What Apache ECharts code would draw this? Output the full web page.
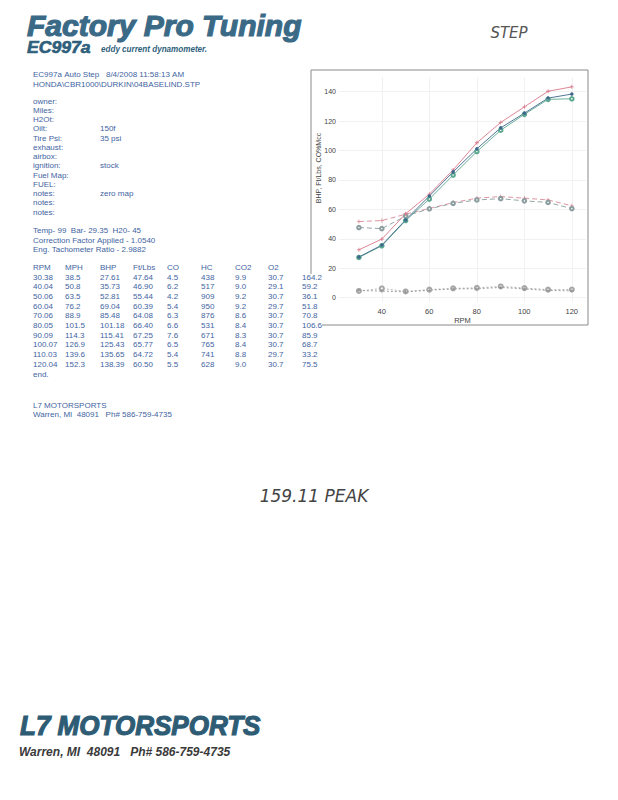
<!DOCTYPE html>
<html><head><meta charset="utf-8">
<script src="https://cdn.jsdelivr.net/npm/echarts@6/dist/echarts.min.js"></script>
<style>html,body{margin:0;padding:0;background:#fff}#c{width:618px;height:800px}</style>
</head><body><div id="c"></div>
<script>
// ---- table data (printed run) ----
const rpm = [30.38, 40.04, 50.06, 60.04, 70.06, 80.05, 90.09, 100.07, 110.03, 120.04];
const mph = [38.5, 50.8, 63.5, 76.2, 88.9, 101.5, 114.3, 126.9, 139.6, 152.3];
const bhp = [27.61, 35.73, 52.81, 69.04, 85.48, 101.18, 115.41, 125.43, 135.65, 138.39];
const ftlbs = [47.64, 46.90, 55.44, 60.39, 64.08, 66.40, 67.25, 65.77, 64.72, 60.50];
const co = [4.5, 6.2, 4.2, 5.4, 6.3, 6.6, 7.6, 6.5, 5.4, 5.5];
const hc = [438, 517, 909, 950, 876, 531, 671, 765, 741, 628];
const co2 = [9.9, 9.0, 9.2, 9.2, 8.6, 8.4, 8.3, 8.4, 8.8, 9.0];
const o2 = [30.7, 29.1, 30.7, 29.7, 30.7, 30.7, 30.7, 30.7, 29.7, 30.7];
const lastCol = [164.2, 59.2, 36.1, 51.8, 70.8, 106.6, 85.9, 68.7, 33.2, 75.5];
// ---- overlay runs ----
const bhpRed = [32.5, 39.8, 57.0, 70.3, 86.8, 105.3, 119.1, 129.7, 140.3, 143.3];
const bhpGreen = [27.3, 35.2, 52.4, 67.0, 83.3, 99.3, 113.8, 124.6, 134.8, 135.2];
const tqRed = [51.7, 52.4, 56.7, 60.6, 64.6, 67.6, 68.7, 67.6, 66.4, 62.4];
const coDark = [4.8, 4.4, 3.9, 5.0, 5.9, 6.0, 6.9, 5.9, 4.8, 4.6];
// ---- axes ----
const xTicks = [40, 60, 80, 100, 120];
const yTicks = [0, 20, 40, 60, 80, 100, 120, 140];
const headers = ['RPM', 'MPH', 'BHP', 'Ft/Lbs', 'CO', 'HC', 'CO2', 'O2', ''];
const infoLabels = ['owner:', 'Miles:', 'H2Ot:', 'Oilt:', 'Tire Psi:', 'exhaust:', 'airbox:', 'ignition:', 'Fuel Map:', 'FUEL:', 'notes:', 'notes:', 'notes:'];
const infoValues = ['', '', '', '150f', '35 psi', '', '', 'stock', '', '', 'zero map', '', ''];

const NB = '\u00a0';
const BLUE = '#42649f';
const FONT = '"Liberation Sans", Arial, sans-serif';

function pairs(v) { return rpm.map((r, i) => [r, v[i]]); }
function txt(x, y, s, opt) {
  opt = opt || {};
  return {
    type: 'text', x: x, y: y, scaleX: opt.sx || 1, silent: true, z: 10,
    style: {
      text: s.replace(/ /g, NB), fill: opt.fill || BLUE,
      font: opt.font || ('8px ' + FONT), align: opt.align || 'left', verticalAlign: 'middle',
      stroke: opt.stroke || null, lineWidth: opt.lw || 0
    }
  };
}
const graphic = [];
// header
graphic.push(txt(27, 25, 'Factory Pro Tuning', {font: 'italic bold 30px ' + FONT, fill: '#3b6a87', stroke: '#3b6a87', lw: 1.2}));
graphic.push(txt(27, 48, 'EC997a', {font: 'italic bold 16px ' + FONT, fill: '#2f5f7c', stroke: '#2f5f7c', lw: 0.6, sx: 1.1}));
graphic.push(txt(101, 49, 'eddy current dynamometer.', {font: 'italic bold 9px ' + FONT, fill: '#2f5f7c', sx: 0.9}));
graphic.push(txt(509, 33, 'STEP', {font: 'italic 15px "DejaVu Sans"', fill: '#555', align: 'center'}));
// run info
graphic.push(txt(33, 74, 'EC997a Auto Step   8/4/2008 11:58:13 AM'));
graphic.push(txt(33, 84, 'HONDA\\CBR1000\\DURKIN\\04BASELIND.STP'));
infoLabels.forEach((l, i) => {
  const y = 101 + i * 9.25;
  graphic.push(txt(33, y, l));
  if (infoValues[i]) graphic.push(txt(100, y, infoValues[i]));
});
graphic.push(txt(33, 230, 'Temp- 99  Bar- 29.35  H20- 45'));
graphic.push(txt(33, 240, 'Correction Factor Applied - 1.0540'));
graphic.push(txt(33, 249, 'Eng. Tachometer Ratio - 2.9882'));
// table
const colX = [33, 65, 100, 133, 167, 201, 235, 268, 302];
headers.forEach((h, j) => { if (h) graphic.push(txt(colX[j], 267, h)); });
const cols = [
  rpm.map(v => v.toFixed(2)), mph.map(v => v.toFixed(1)), bhp.map(v => v.toFixed(2)),
  ftlbs.map(v => v.toFixed(2)), co.map(v => v.toFixed(1)), hc.map(v => String(v)),
  co2.map(v => v.toFixed(1)), o2.map(v => v.toFixed(1)), lastCol.map(v => v.toFixed(1))
];
rpm.forEach((r, i) => {
  const y = 277 + i * 9.67;
  cols.forEach((c, j) => graphic.push(txt(colX[j], y, c[i])));
});
graphic.push(txt(33, 374, 'end.'));
graphic.push(txt(33, 405, 'L7 MOTORSPORTS'));
graphic.push(txt(33, 414, 'Warren, MI  48091   Ph# 586-759-4735'));
// handwriting
graphic.push(txt(314, 496, '159.11 PEAK', {font: 'italic 17px "DejaVu Sans"', fill: '#444', align: 'center'}));
// footer
graphic.push(txt(20, 726, 'L7 MOTORSPORTS', {font: 'italic bold 28px ' + FONT, fill: '#2e5c74', stroke: '#2e5c74', lw: 1.2, sx: 0.93}));
graphic.push(txt(19, 752, 'Warren, MI  48091   Ph# 586-759-4735', {font: 'italic bold 12px ' + FONT, fill: '#3a3a3a'}));
// chart frame
const FR = '#8a8a8a';
[[311, 70, 588, 70], [588, 70, 588, 325], [322, 325, 588, 325], [311, 70, 311, 274]].forEach(s => {
  graphic.push({type: 'line', silent: true, shape: {x1: s[0], y1: s[1], x2: s[2], y2: s[3]}, style: {stroke: FR, lineWidth: 1}});
});
// y axis title
graphic.push({type: 'text', x: 318, y: 168, rotation: Math.PI / 2, silent: true,
  style: {text: 'BHP, Ft/Lbs, CO%Mcc', font: '7px ' + FONT, fill: '#444', align: 'center', verticalAlign: 'middle'}});

const PLUS = 'path://M4,0h2v4h4v2h-4v4h-2v-4h-4v-2h4z';
function line(name, data, color, opts) {
  return Object.assign({
    name: name, type: 'line', data: pairs(data), symbol: 'circle', symbolSize: 4,
    lineStyle: {color: color, width: 1}, itemStyle: {color: color, borderWidth: 1},
    animation: false, z: 3
  }, opts || {});
}
const chart = echarts.init(document.getElementById('c'), null, {renderer: 'svg'});
chart.setOption({
  backgroundColor: '#ffffff',
  animation: false,
  grid: {left: 339, right: 32, top: 77, bottom: 498, containLabel: false},
  xAxis: {
    type: 'value', min: 22, max: 126, name: 'RPM', nameLocation: 'middle', nameGap: 14,
    nameTextStyle: {fontSize: 7.5, color: '#444', fontFamily: 'Liberation Sans'},
    axisLine: {show: false}, axisTick: {show: false, customValues: xTicks},
    axisLabel: {customValues: xTicks, fontSize: 7.5, color: '#444', margin: 5, fontFamily: 'Liberation Sans'},
    splitLine: {show: true, lineStyle: {color: '#f1f1f1', width: 1}}
  },
  yAxis: {
    type: 'value', min: -3, max: 150,
    axisLine: {show: false}, axisTick: {show: false, customValues: yTicks},
    axisLabel: {customValues: yTicks, fontSize: 7, color: '#444', margin: 3, fontFamily: 'Liberation Sans'},
    splitLine: {show: true, lineStyle: {color: '#f1f1f1', width: 1}}
  },
  series: [
    line('Torque (run 2)', tqRed, '#d98a97', {symbol: PLUS, symbolSize: 4, lineStyle: {color: '#d98a97', width: 0.9, type: [5, 3]}}),
    line('Ft/Lbs', ftlbs, '#8a9c9e', {symbol: 'emptyCircle', symbolSize: 3.5, lineStyle: {color: '#8a9c9e', width: 0.9, type: [5, 3]}}),
    line('BHP (run 2)', bhpRed, '#d9788a', {symbol: PLUS, symbolSize: 4, lineStyle: {color: '#d9788a', width: 0.9}}),
    line('BHP (run 3)', bhpGreen, '#5aa88f', {symbol: 'emptyCircle', symbolSize: 3.5, lineStyle: {color: '#5aa88f', width: 0.9}}),
    line('BHP', bhp, '#3f678c', {symbol: 'circle', symbolSize: 3.5, lineStyle: {color: '#3f678c', width: 0.9}}),
    line('CO', co, '#a6a6a6', {symbol: 'emptyCircle', symbolSize: 4, lineStyle: {color: '#a6a6a6', width: 0.8, type: [2, 2]}}),
    line('CO (run 2)', coDark, '#8a8a8a', {symbol: PLUS, symbolSize: 3.5, lineStyle: {color: '#8a8a8a', width: 0.8, type: [2, 2]}})
  ],
  graphic: graphic
});
</script></body></html>
